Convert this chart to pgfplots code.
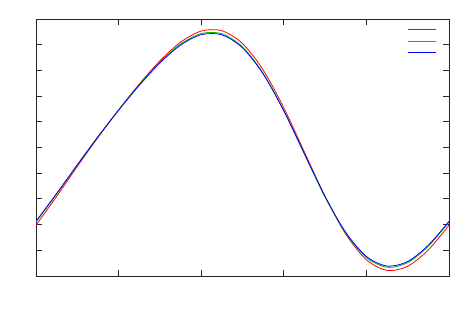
\documentclass[border=0pt]{standalone}
\usepackage{pgfplots}
\pgfplotsset{compat=1.18}
\begin{document}
\begin{tikzpicture}[x=1pt,y=1pt]
\begin{axis}[
  at={(0,0)}, anchor=south west,
  scale only axis, width=413pt, height=257pt,
  xmin=0, xmax=5, ymin=0, ymax=10,
  xtick={0,1,2,3,4,5}, ytick={0,1,...,10},
  xticklabels={}, yticklabels={},
  tick align=inside, major tick length=6pt,
  axis line style={black!85, line width=0.8pt},
  tick style={black!85, line width=0.8pt},
  legend style={draw=none, fill=none, at={(1,1)}, anchor=north east,
    xshift=-11pt, yshift=-5pt, row sep=0pt, inner sep=0pt,
    nodes={inner sep=0pt, minimum height=11.2pt}},
  legend image code/.code={\draw[#1] (0pt,0pt) -- (28pt,0pt);},
]
\addplot[red, line width=0.8pt, smooth, no marks] coordinates {
(0,1.977) (0.25,3.099) (0.5,4.261) (0.75,5.391) (1,6.465) (1.25,7.469)
(1.5,8.371) (1.75,9.097) (2,9.530) (2.25,9.544) (2.5,9.045) (2.75,8.017)
(3,6.546) (3.25,4.821) (3.5,3.094) (3.75,1.629) (4,0.633) (4.25,0.217)
(4.5,0.379) (4.75,1.017) (5,1.977)};
\addlegendentry{\mbox{}}
\addplot[green!75!black, line width=0.8pt, smooth, no marks] coordinates {
(0,2.099) (0.25,3.191) (0.5,4.319) (0.75,5.417) (1,6.463) (1.25,7.442)
(1.5,8.321) (1.75,9.023) (2,9.434) (2.25,9.428) (2.5,8.917) (2.75,7.890)
(3,6.438) (3.25,4.749) (3.5,3.072) (3.75,1.662) (4,0.717) (4.25,0.340)
(4.5,0.520) (4.75,1.157) (5,2.099)};
\addlegendentry{\mbox{}}
\addplot[blue, line width=0.8pt, smooth, no marks] coordinates {
(0,2.128) (0.25,3.210) (0.5,4.326) (0.75,5.413) (1,6.448) (1.25,7.418)
(1.5,8.289) (1.75,8.983) (2,9.390) (2.25,9.384) (2.5,8.878) (2.75,7.862)
(3,6.424) (3.25,4.752) (3.5,3.092) (3.75,1.696) (4,0.761) (4.25,0.387)
(4.5,0.565) (4.75,1.196) (5,2.128)};
\addlegendentry{\mbox{}}
\end{axis}
\path (current axis.south west) ++(-36pt,-33pt) coordinate (bbsw);
\path (current axis.north east) ++(8pt,19pt) coordinate (bbne);
\useasboundingbox (bbsw) rectangle (bbne);
\end{tikzpicture}
\end{document}
